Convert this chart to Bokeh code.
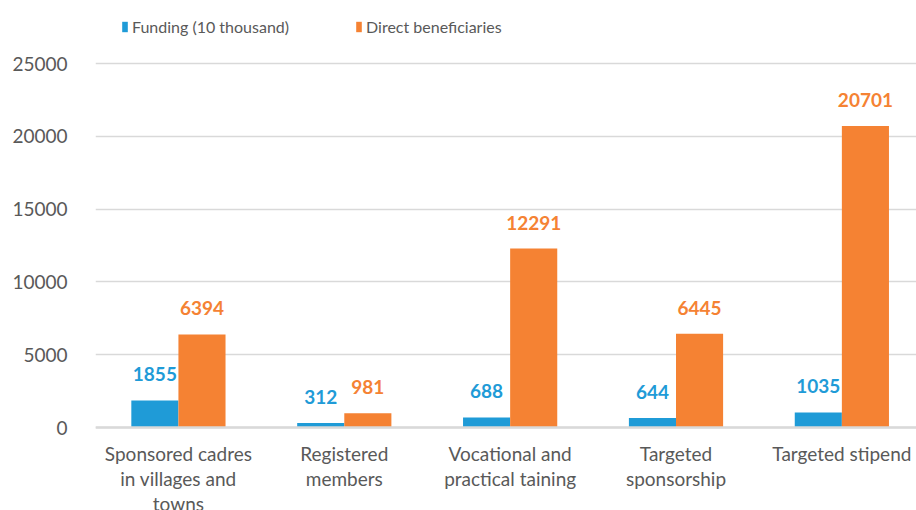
from bokeh.plotting import figure
from bokeh.models import ColumnDataSource, Range1d, Legend, LegendItem, FixedTicker, LabelSet, Span
from bokeh.core.properties import value
from bokeh.transform import dodge
from bokeh.embed import file_html
from bokeh.resources import INLINE

categories = ["Sponsored cadres in villages and towns", "Registered members",
              "Vocational and practical taining", "Targeted sponsorship", "Targeted stipend"]
tick_labels = ["Sponsored cadres\nin villages and\ntowns", "Registered\nmembers",
               "Vocational and\npractical taining", "Targeted\nsponsorship", "Targeted stipend"]
funding = [1855, 312, 688, 644, 1035]
beneficiaries = [6394, 981, 12291, 6445, 20701]
y_ticks = [0, 5000, 10000, 15000, 20000, 25000]

BLUE = "#1F9BD7"
ORANGE = "#F58233"
GRAY = "#595959"
FONT = "Lato"

xs = list(range(len(categories)))
src = ColumnDataSource(dict(x=xs, cat=categories, lab=tick_labels, f=funding, b=beneficiaries,
                            fl=[str(v) for v in funding], bl=[str(v) for v in beneficiaries]))

# frame covers the whole height (0..510 px); value 0 sits at row 427, 25000 at row 63
H = 510
ZERO_ROW = 427
TOP_ROW = 63
per_px = 25000 / (ZERO_ROW - TOP_ROW)
y_start = -(H - ZERO_ROW) * per_px
y_end = 25000 + TOP_ROW * per_px

p = figure(x_range=Range1d(-0.5, 4.45), y_range=Range1d(y_start, y_end),
           width=916, height=H, output_backend="svg", toolbar_location=None,
           min_border_left=95, min_border_right=0, min_border_top=0, min_border_bottom=0)
p.outline_line_color = None
p.background_fill_color = "white"

p.xaxis.visible = False

p.yaxis.ticker = FixedTicker(ticks=y_ticks)
p.yaxis.axis_line_color = None
p.yaxis.major_tick_line_color = None
p.yaxis.minor_tick_line_color = None
p.yaxis.major_label_text_font = FONT
p.yaxis.major_label_text_font_size = "19px"
p.yaxis.major_label_text_color = GRAY
p.yaxis.major_label_standoff = 22

p.xgrid.grid_line_color = None
p.ygrid.grid_line_color = "#D9D9D9"
p.ygrid.grid_line_width = 1.5

# category axis baseline
p.add_layout(Span(location=0, dimension="width", line_color="#D9D9D9", line_width=2.5))

W = 0.284
r1 = p.vbar(x=dodge("x", -W / 2), top="f", width=W, source=src,
            fill_color=BLUE, line_color=None)
r2 = p.vbar(x=dodge("x", W / 2), top="b", width=W, source=src,
            fill_color=ORANGE, line_color=None)

for col, lab, off, color in [("f", "fl", -W / 2, BLUE), ("b", "bl", W / 2, ORANGE)]:
    ls = LabelSet(x=dodge("x", off), y=col, text=lab, source=src,
                  text_align="center", text_baseline="bottom", y_offset=19,
                  text_font=value(FONT), text_font_size="19px", text_font_style="bold",
                  text_color=color)
    p.add_layout(ls)

# category labels under the baseline
p.text(x="x", y=0, text="lab", source=src, text_align="center", text_baseline="top",
       y_offset=14, text_font=value(FONT), text_font_size="19px", text_color=GRAY,
       text_line_height=1.1)

legend = Legend(items=[LegendItem(label="Funding (10 thousand)", renderers=[r1]),
                       LegendItem(label="Direct beneficiaries", renderers=[r2])],
                orientation="horizontal", location=(26, 474),
                label_text_font=FONT, label_text_font_size="16px",
                label_text_color=GRAY,
                glyph_width=7, glyph_height=13, label_standoff=4, spacing=66,
                border_line_color=None, background_fill_alpha=0, padding=0, margin=0)
p.add_layout(legend)

open("out.html", "w").write(file_html(p, INLINE))
